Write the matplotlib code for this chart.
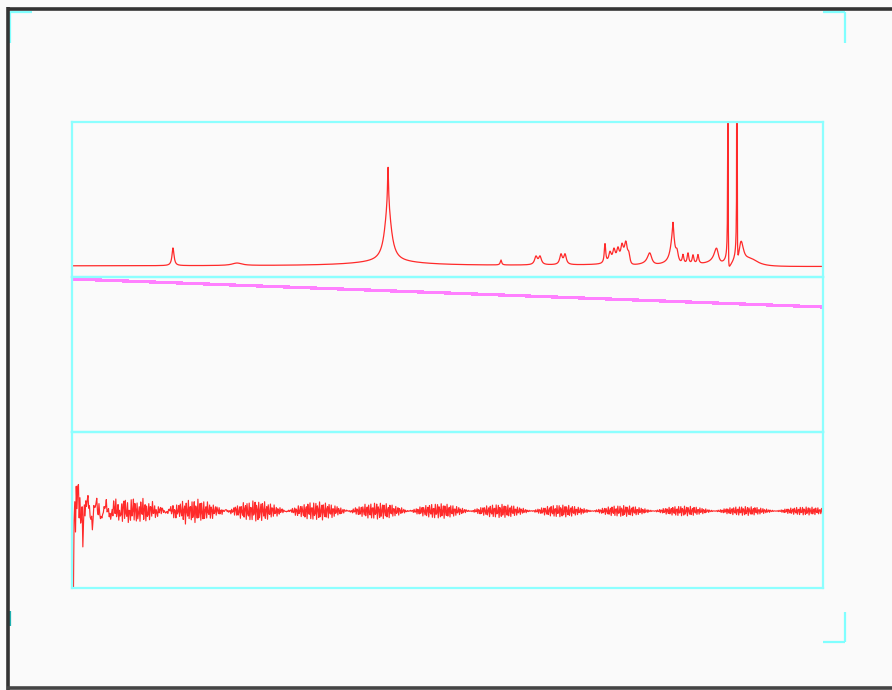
import numpy as np
import matplotlib
matplotlib.use("Agg")
import matplotlib.pyplot as plt
from matplotlib.lines import Line2D

# ---- peak table of the 1H spectrum (chemical shift in ppm) ----
peak_shift = [8.655, 7.803,
              5.792, 5.792, 5.792,
              4.288,
              3.822, 3.768,
              3.489, 3.435,
              2.903, 2.836, 2.783, 2.730, 2.676, 2.623, 2.583,
              2.304,
              1.997, 1.997, 1.944,
              1.864, 1.798, 1.731, 1.665,
              1.412,
              1.265, 1.145,
              1.092, 0.970]
peak_height = [18, 2.5,
               4, 55, 40,
               5,
               8, 8,
               10, 10,
               20, 10, 12, 12, 14, 18, 10,
               12,
               30, 12, 10,
               9, 11, 9, 9,
               16,
               560, 560,
               25, 8]
peak_hwhm = [0.016, 0.080,
             0.530, 0.053, 0.008,
             0.011,
             0.022, 0.022,
             0.020, 0.020,
             0.011, 0.020, 0.020, 0.020, 0.020, 0.022, 0.020,
             0.035,
             0.033, 0.008, 0.020,
             0.013, 0.013, 0.013, 0.013,
             0.035,
             0.00187, 0.00187,
             0.040, 0.130]
peak_phase_deg = [0, 0,
                  0, 0, 0,
                  0,
                  0, 0,
                  0, 0,
                  0, 0, 0, 0, 0, 15, 25,
                  15,
                  10, 0, 0,
                  0, 0, 0, 0,
                  25,
                  10, 10,
                  0, 0]

# acquisition / processing parameters
spectral_width = 10.0     # ppm
carrier = 5.0             # ppm
n_points = 1024           # complex points acquired
n_spec = 2048             # zero-filled spectrum size
receiver_phase_deg = 180.0

# first-order phase ramp shown in the middle trace
phase_ramp = [-2.0, -30.0]

shift_axis = spectral_width * (1.0 - np.arange(n_spec) / n_spec)
spectrum = np.zeros_like(shift_axis)
t = np.arange(n_points) / spectral_width
fid = np.zeros(n_points)
for d0, h, g, ph in zip(peak_shift, peak_height, peak_hwhm, peak_phase_deg):
    p = np.deg2rad(ph)
    dd = shift_axis - d0
    spectrum += h * (g * g * np.cos(p) + g * dd * np.sin(p)) / (dd * dd + g * g)
    amp = h * 2 * np.pi * g
    fid += amp * np.exp(-2 * np.pi * g * t) * np.cos(2 * np.pi * (d0 - carrier) * t + p)
fid *= np.cos(np.deg2rad(receiver_phase_deg))

W, H = 892, 690
fig = plt.figure(figsize=(W / 100, H / 100), dpi=100, facecolor="#fafafa")

frame_c = "#8cffff"
trace_c = "#ff2a2a"


def panel(top_px, bottom_px):
    ax = fig.add_axes([72 / W, 1 - bottom_px / H, 751 / W, (bottom_px - top_px) / H])
    ax.set_facecolor("none")
    ax.set_xticks([])
    ax.set_yticks([])
    for s in ax.spines.values():
        s.set_color(frame_c)
        s.set_linewidth(1.6)
    return ax


ax1 = panel(122, 277)
ax1.plot(shift_axis, spectrum, color=trace_c, lw=0.9)
ax1.set_xlim(spectral_width, 0.0)
ax1.set_ylim(-11, 144)

ax2 = panel(277, 432)
ax2.plot([spectral_width, 0.0], phase_ramp, color="#ff80ff", lw=1.6, antialiased=False)
ax2.set_xlim(spectral_width, 0.0)
ax2.set_ylim(-155, 0)

ax3 = panel(432, 588)
ax3.plot(np.arange(n_points), fid, color=trace_c, lw=0.85)
ax3.set_xlim(-1.8, n_points - 1)
ax3.set_ylim(-77, 79)


def figline(xs, ys, color, lw):
    fig.add_artist(Line2D([x / W for x in xs], [1 - y / H for y in ys],
                          transform=fig.transFigure, color=color, lw=lw,
                          solid_capstyle="butt"))


# crop marks
cm = "#80ffff"
figline([10, 32], [11.5, 11.5], cm, 1.6)
figline([10, 10], [11.5, 43], cm, 1.6)
figline([823, 845], [11.5, 11.5], cm, 1.6)
figline([845, 845], [11.5, 43], cm, 1.6)
figline([845, 845], [612, 641.5], cm, 1.6)
figline([823, 845], [641.5, 641.5], cm, 1.6)
figline([9.5, 9.5], [611, 626], "#20b0b0", 1.6)

# window border
figline([7, W], [9, 9], "#333333", 2.6)
figline([8, 8], [7, 690], "#333333", 2.6)
figline([7, W], [687.5, 687.5], "#444444", 2.6)

fig.savefig("out.png", dpi=100, facecolor=fig.get_facecolor())
